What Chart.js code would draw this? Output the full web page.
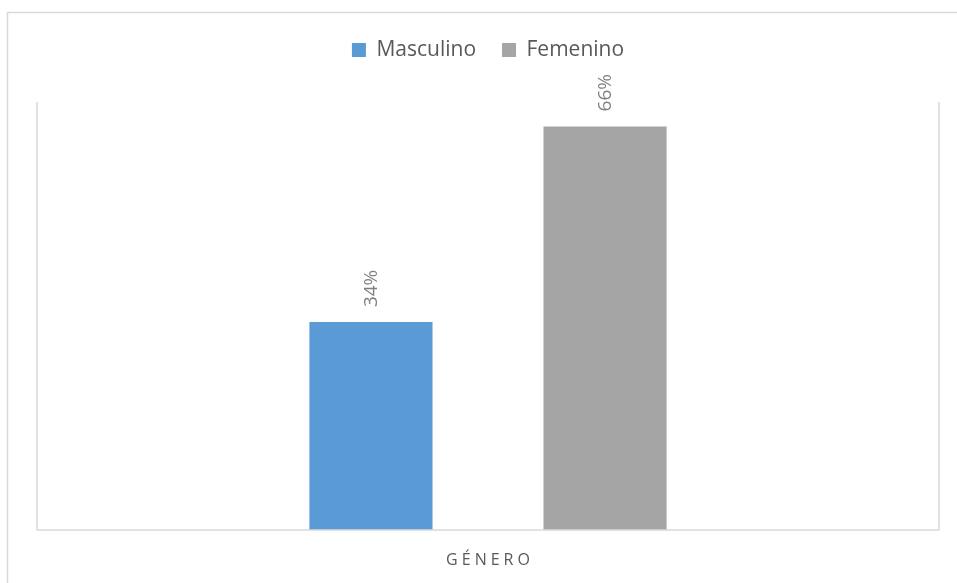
<!DOCTYPE html>
<html>
<head>
<meta charset="utf-8">
<script src="https://cdn.jsdelivr.net/npm/chart.js@4"></script>
<style>
  html, body { margin: 0; padding: 0; background: #fff; }
  #wrap { width: 957px; height: 583px; position: relative; }
</style>
</head>
<body>
<div id="wrap"><canvas id="genero"></canvas></div>
<script>
const categories = ['GÉNERO'];
const seriesNames = ['Masculino', 'Femenino'];
const masculino = [34];
const femenino = [66];
const seriesColors = ['#5B9BD5', '#A5A5A5'];

const FONT = '"Open Sans", "Noto Sans", sans-serif';

// outer chart border (left + top, like the Excel chart frame)
const frame = {
    id: 'frame',
    beforeDraw(chart) {
        const ctx = chart.ctx;
        ctx.save();
        ctx.fillStyle = '#fff';
        ctx.fillRect(0, 0, chart.width, chart.height);
        ctx.strokeStyle = '#d9d9d9';
        ctx.lineWidth = 1.5;
        ctx.beginPath();
        ctx.moveTo(7.5, chart.height);
        ctx.lineTo(7.5, 12.5);
        ctx.lineTo(chart.width, 12.5);
        ctx.stroke();
        ctx.restore();
    },
    afterDatasetsDraw(chart) {
        const {ctx, chartArea: a} = chart;
        ctx.save();
        ctx.strokeStyle = '#d9d9d9';
        ctx.lineWidth = 1.5;
        ctx.beginPath();
        ctx.moveTo(a.left, a.top);
        ctx.lineTo(a.left, a.bottom);
        ctx.lineTo(a.right, a.bottom);
        ctx.lineTo(a.right, a.top);
        ctx.stroke();

        // rotated value labels above the bars
        ctx.fillStyle = '#7f7f7f';
        ctx.font = '19px ' + FONT;
        ctx.textAlign = 'left';
        ctx.textBaseline = 'middle';
        chart.data.datasets.forEach((ds, i) => {
            chart.getDatasetMeta(i).data.forEach((bar, j) => {
                ctx.save();
                ctx.translate(bar.x + 1, bar.y - 15);
                ctx.rotate(-Math.PI / 2);
                ctx.fillText(ds.data[j] + '%', 0, 0);
                ctx.restore();
            });
        });

        // category label, letter spaced
        const xs = chart.scales.x;
        ctx.fillStyle = '#595959';
        ctx.font = '16px ' + FONT;
        ctx.textAlign = 'center';
        ctx.letterSpacing = '4px';
        categories.forEach((c, k) => {
            ctx.fillText(c, xs.getPixelForValue(k) + 2, a.bottom + 30);
        });
        ctx.restore();
    }
};

new Chart(document.getElementById('genero'), {
    type: 'bar',
    data: {
        labels: categories,
        datasets: [
            {label: seriesNames[0], data: masculino, backgroundColor: seriesColors[0]},
            {label: seriesNames[1], data: femenino, backgroundColor: seriesColors[1]}
        ]
    },
    options: {
        responsive: true,
        maintainAspectRatio: false,
        animation: false,
        categoryPercentage: 0.519,
        barPercentage: 0.526,
        layout: {padding: {top: 13.5, left: 37, right: 18, bottom: 53}},
        scales: {
            x: {display: false},
            y: {display: false, min: 0, max: 70}
        },
        plugins: {
            legend: {
                position: 'top',
                labels: {
                    boxWidth: 14,
                    boxHeight: 14,
                    padding: 26,
                    color: '#595959',
                    font: {family: FONT, size: 21}
                }
            },
            // spacer between legend and plot
            title: {
                display: true,
                text: '',
                weight: 500,
                padding: {top: 31.5, bottom: 0},
                font: {size: 1, lineHeight: 0}
            },
            tooltip: {enabled: false}
        }
    },
    plugins: [frame]
});
</script>
</body>
</html>
